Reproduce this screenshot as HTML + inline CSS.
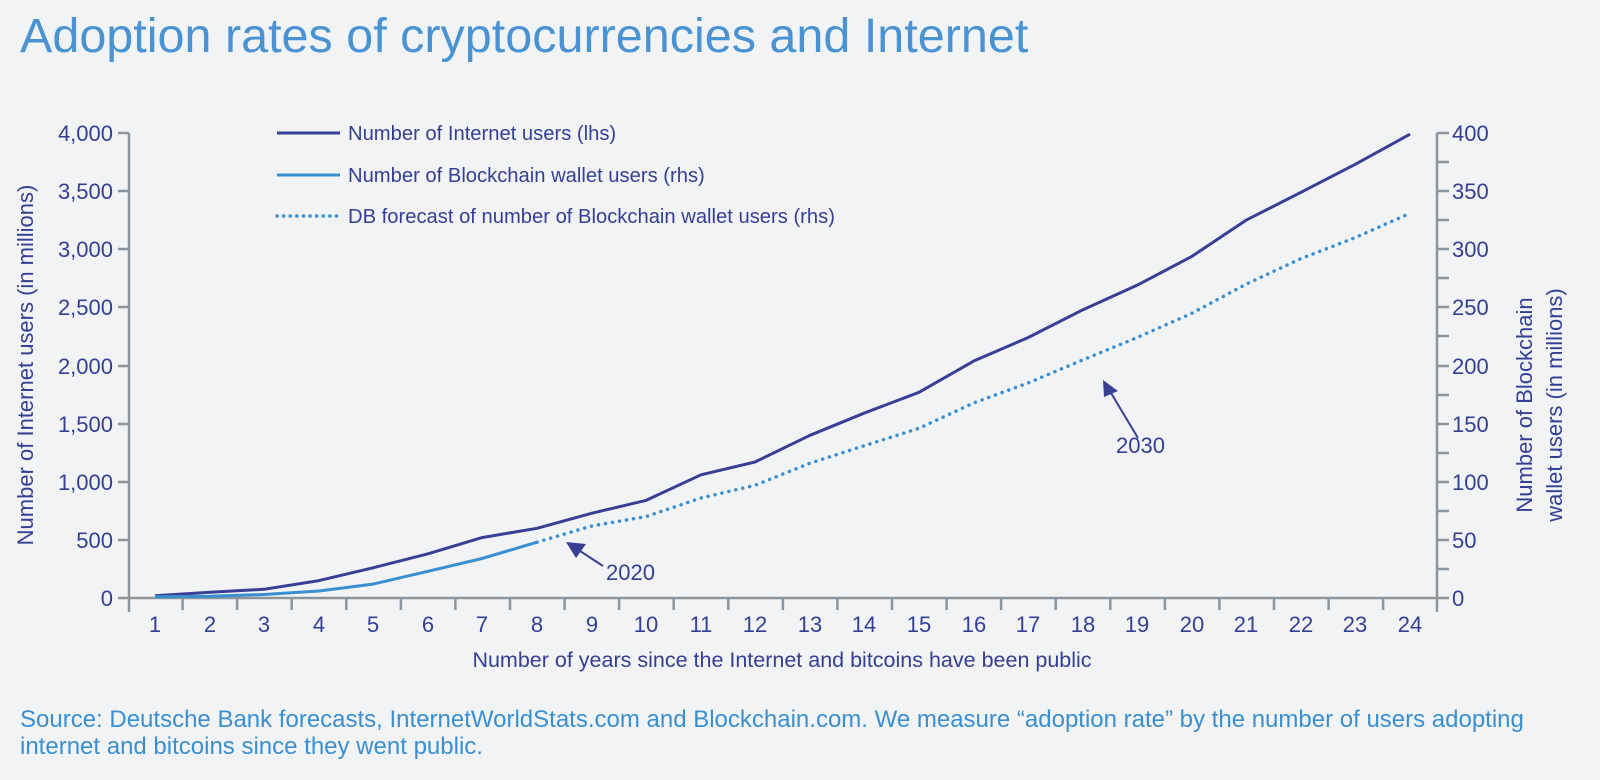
<!DOCTYPE html>
<html><head><meta charset="utf-8"><style>
html,body{margin:0;padding:0;background:#f2f3f5;}
svg{display:block;font-family:"Liberation Sans",sans-serif;}
</style></head><body>
<svg width="1600" height="780" viewBox="0 0 1600 780" xmlns="http://www.w3.org/2000/svg">
<rect width="1600" height="780" fill="#f2f3f5"/>
<text x="20" y="52" font-size="48.5" fill="#4a93d3">Adoption rates of cryptocurrencies and Internet</text>
<g stroke="#8d959c" stroke-width="2.5" fill="none">
<line x1="129" y1="133" x2="129" y2="612"/>
<line x1="129" y1="598" x2="1437" y2="598"/>
<line x1="1437" y1="133" x2="1437" y2="612"/>
<line x1="118" y1="598" x2="129" y2="598"/><line x1="118" y1="540" x2="129" y2="540"/><line x1="118" y1="482" x2="129" y2="482"/><line x1="118" y1="424" x2="129" y2="424"/><line x1="118" y1="366" x2="129" y2="366"/><line x1="118" y1="307" x2="129" y2="307"/><line x1="118" y1="249" x2="129" y2="249"/><line x1="118" y1="191" x2="129" y2="191"/><line x1="118" y1="133" x2="129" y2="133"/>
<line x1="1437" y1="598" x2="1449" y2="598"/><line x1="1437" y1="569" x2="1449" y2="569"/><line x1="1437" y1="540" x2="1449" y2="540"/><line x1="1437" y1="511" x2="1449" y2="511"/><line x1="1437" y1="482" x2="1449" y2="482"/><line x1="1437" y1="453" x2="1449" y2="453"/><line x1="1437" y1="424" x2="1449" y2="424"/><line x1="1437" y1="395" x2="1449" y2="395"/><line x1="1437" y1="366" x2="1449" y2="366"/><line x1="1437" y1="336" x2="1449" y2="336"/><line x1="1437" y1="307" x2="1449" y2="307"/><line x1="1437" y1="278" x2="1449" y2="278"/><line x1="1437" y1="249" x2="1449" y2="249"/><line x1="1437" y1="220" x2="1449" y2="220"/><line x1="1437" y1="191" x2="1449" y2="191"/><line x1="1437" y1="162" x2="1449" y2="162"/><line x1="1437" y1="133" x2="1449" y2="133"/>
<path d="M182.6 598v12M237.1 598v12M291.7 598v12M346.3 598v12M400.9 598v12M455.4 598v12M510 598v12M564.6 598v12M619.1 598v12M673.7 598v12M728.3 598v12M782.9 598v12M837.4 598v12M892 598v12M946.6 598v12M1001.1 598v12M1055.7 598v12M1110.3 598v12M1164.9 598v12M1219.4 598v12M1274 598v12M1328.6 598v12M1383.1 598v12"/>
</g>
<g font-size="22" fill="#343f94" text-anchor="end">
<text x="113" y="606">0</text><text x="113" y="548">500</text><text x="113" y="490">1,000</text><text x="113" y="432">1,500</text><text x="113" y="374">2,000</text><text x="113" y="315">2,500</text><text x="113" y="257">3,000</text><text x="113" y="199">3,500</text><text x="113" y="141">4,000</text>
</g>
<g font-size="22" fill="#343f94">
<text x="1452" y="606">0</text><text x="1452" y="548">50</text><text x="1452" y="490">100</text><text x="1452" y="432">150</text><text x="1452" y="374">200</text><text x="1452" y="315">250</text><text x="1452" y="257">300</text><text x="1452" y="199">350</text><text x="1452" y="141">400</text>
</g>
<g font-size="22" fill="#343f94" text-anchor="middle">
<text x="155" y="632">1</text><text x="210" y="632">2</text><text x="264" y="632">3</text><text x="319" y="632">4</text><text x="373" y="632">5</text><text x="428" y="632">6</text><text x="482" y="632">7</text><text x="537" y="632">8</text><text x="592" y="632">9</text><text x="646" y="632">10</text><text x="701" y="632">11</text><text x="755" y="632">12</text><text x="810" y="632">13</text><text x="864" y="632">14</text><text x="919" y="632">15</text><text x="974" y="632">16</text><text x="1028" y="632">17</text><text x="1083" y="632">18</text><text x="1137" y="632">19</text><text x="1192" y="632">20</text><text x="1246" y="632">21</text><text x="1301" y="632">22</text><text x="1355" y="632">23</text><text x="1410" y="632">24</text>
<text x="782" y="667" font-size="21.5">Number of years since the Internet and bitcoins have been public</text>
<text transform="translate(33,365) rotate(-90)">Number of Internet users (in millions)</text>
<text transform="translate(1532,405) rotate(-90)">Number of Blockchain</text>
<text transform="translate(1562,405) rotate(-90)">wallet users (in millions)</text>
</g>
<polyline fill="none" stroke="#383f94" stroke-width="3" stroke-linejoin="round" points="155,595.7 210,592.2 264,589.3 319,580.6 373,567.8 428,553.8 482,537.6 537,528.3 592,513.2 646,500.4 701,474.8 755,462.0 810,435.3 864,413.2 919,392.3 974,360.9 1028,337.6 1083,309.7 1137,285.3 1192,256.3 1246,220.2 1301,192.3 1355,164.4 1410,134.2"/>
<polyline fill="none" stroke="#3a8fd0" stroke-width="3" stroke-linejoin="round" points="155,596.8 210,596.3 264,594.5 319,591.0 373,584.1 428,571.3 482,558.5 537,542.2"/>
<polyline fill="none" stroke="#3a8fd0" stroke-width="3.5" stroke-dasharray="0.1 7" stroke-linecap="round" points="537,542.2 592,525.9 646,516.6 701,498.0 755,485.3 810,463.2 864,445.8 919,428.3 974,402.8 1028,383.0 1083,359.8 1137,337.6 1192,313.2 1246,284.2 1301,258.6 1355,237.7 1410,213.3"/>
<g font-size="20.2" fill="#343f94">
<line x1="277" y1="133" x2="340" y2="133" stroke="#383f94" stroke-width="3"/>
<text x="348" y="140">Number of Internet users (lhs)</text>
<line x1="277" y1="175" x2="340" y2="175" stroke="#3a8fd0" stroke-width="3"/>
<text x="348" y="182">Number of Blockchain wallet users (rhs)</text>
<line x1="277" y1="216" x2="340" y2="216" stroke="#3a8fd0" stroke-width="3.5" stroke-dasharray="0.1 6.5" stroke-linecap="round"/>
<text x="348" y="223">DB forecast of number of Blockchain wallet users (rhs)</text>
<text x="606" y="580" font-size="22">2020</text>
<text x="1116" y="453" font-size="22">2030</text>
</g>
<line x1="603" y1="566" x2="577" y2="549" stroke="#383f94" stroke-width="2"/>
<polygon points="566,542 586,544 576,558" fill="#383f94"/>
<line x1="1138" y1="438" x2="1111" y2="393" stroke="#383f94" stroke-width="2"/>
<polygon points="1103,380 1118,391 1104,397" fill="#383f94"/>
<g font-size="24" fill="#3a8fd0">
<text x="20" y="727">Source: Deutsche Bank forecasts, InternetWorldStats.com and Blockchain.com. We measure “adoption rate” by the number of users adopting</text>
<text x="20" y="754">internet and bitcoins since they went public.</text>
</g>
</svg>
</body></html>
